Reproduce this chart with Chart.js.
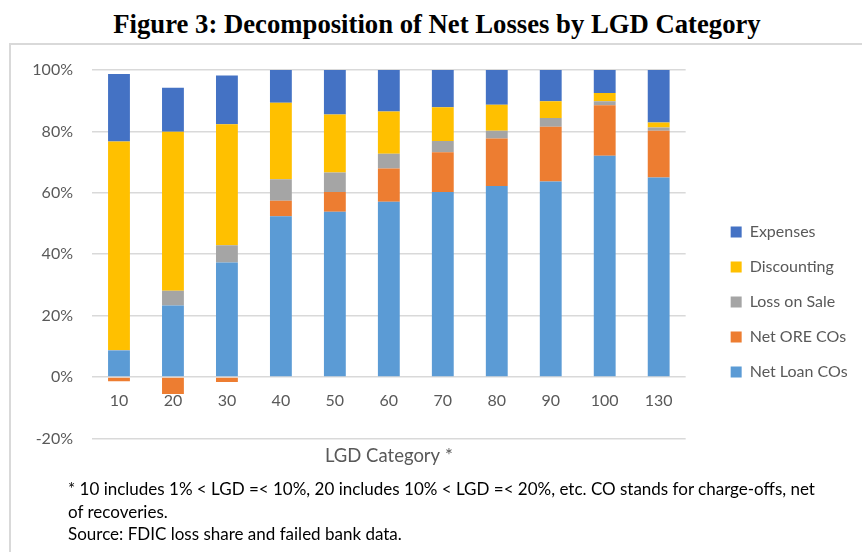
<!DOCTYPE html>
<html>
<head>
<meta charset="utf-8">
<script src="https://cdn.jsdelivr.net/npm/chart.js@4"></script>
<style>
  html, body { margin: 0; padding: 0; background: #fff; }
  body { width: 862px; height: 552px; position: relative; overflow: hidden; }
  #title { position: absolute; left: 0; width: 874px; top: 11px; text-align: center;
    font: bold 26.7px/26px "Liberation Serif", "Times New Roman", serif; color: #000; }
  #frame { position: absolute; left: 9px; top: 43px; width: 900px; height: 600px;
    border: 2px solid #d9d9d9; box-sizing: border-box; }
  #wrap { position: absolute; left: 0; top: 0; width: 862px; height: 534px; }
  #note { position: absolute; left: 68px; top: 478px; white-space: nowrap;
    font: 17px/22.5px Lato, sans-serif; color: #000; }
</style>
</head>
<body>
<div id="title">Figure 3: Decomposition of Net Losses by LGD Category</div>
<div id="frame"></div>
<div id="wrap"><canvas id="lgdChart"></canvas></div>
<div id="note">* 10 includes 1% &lt; LGD =&lt; 10%, 20 includes 10% &lt; LGD =&lt; 20%, etc. CO stands for charge-offs, net<br>of recoveries.<br>Source: FDIC loss share and failed bank data.</div>
<script>
// LGD buckets and share of net losses (%) by component
var categories = ['10', '20', '30', '40', '50', '60', '70', '80', '90', '100', '130'];
var netLoanCOs = [8.6, 23.3, 37.3, 52.4, 53.8, 57.1, 60.3, 62.2, 63.7, 72.1, 65.0];
var netOreCOs = [-1.4, -5.5, -1.6, 5.0, 6.5, 10.8, 12.9, 15.5, 17.8, 16.4, 15.2];
var lossOnSale = [0.2, 4.8, 5.6, 7.0, 6.3, 4.8, 3.7, 2.5, 2.9, 1.3, 1.1];
var discounting = [67.9, 51.8, 39.4, 24.9, 18.9, 13.8, 11.0, 8.5, 5.4, 2.7, 1.6];
var expenses = [22.0, 14.3, 15.9, 10.7, 14.5, 13.5, 12.1, 11.3, 10.2, 7.5, 17.1];
var yTicks = [-20, 0, 20, 40, 60, 80, 100];

function bar_set(_label, _color, _data) {
	return {
		label: _label,
		backgroundColor: _color,
		borderWidth: 0,
		data: _data,
		barPercentage: 0.405,
		categoryPercentage: 1.0
	};
}

var ctx = document.getElementById('lgdChart').getContext('2d');
var grayText = '#595959';

new Chart(ctx, {
	type: 'bar',
	data: {
		labels: categories,
		datasets: [
			bar_set('Net Loan COs', '#5b9bd5', netLoanCOs),
			bar_set('Net ORE COs', '#ed7d31', netOreCOs),
			bar_set('Loss on Sale', '#a5a5a5', lossOnSale),
			bar_set('Discounting', '#ffc000', discounting),
			bar_set('Expenses', '#4472c4', expenses)
		]
	},
	options: {
		responsive: true,
		maintainAspectRatio: false,
		animation: false,
		layout: { padding: { top: 70, left: 0, right: 8, bottom: 0 } },
		plugins: {
			tooltip: { enabled: false },
			legend: {
				position: 'right',
				reverse: true,
				labels: {
					boxWidth: 11,
					boxHeight: 11,
					padding: 19,
					color: grayText,
					font: { family: 'Lato', size: 16 }
				}
			}
		},
		scales: {
			x: {
				stacked: true,
				grid: { display: false, drawTicks: false },
				border: { display: false },
				// mirrored so the labels sit above the -20% line, as in the original
				ticks: { color: grayText, mirror: true, padding: 27.7, font: { family: 'Lato', size: 16 } },
				title: {
					display: true,
					text: 'LGD Category *',
					color: grayText,
					font: { family: 'Lato', size: 18.5 },
					padding: { top: -48.5, bottom: 66.5 }
				}
			},
			y: {
				stacked: true,
				min: -20,
				max: 100,
				afterBuildTicks: function(scale) {
					scale.ticks = yTicks.map(function(v) { return { value: v }; });
				},
				afterFit: function(scale) { scale.width = 92; },
				grid: { color: '#d9d9d9', lineWidth: 1.5, drawTicks: false },
				border: { display: false },
				ticks: {
					color: grayText,
					padding: 19,
					font: { family: 'Lato', size: 16 },
					callback: function(v) { return v + '%'; }
				}
			},
			spacer: {
				type: 'linear',
				position: 'right',
				display: true,
				grid: { display: false, drawTicks: false },
				border: { display: false },
				ticks: { display: false },
				afterFit: function(scale) { scale.width = 26; }
			}
		}
	}
});
</script>
</body>
</html>
